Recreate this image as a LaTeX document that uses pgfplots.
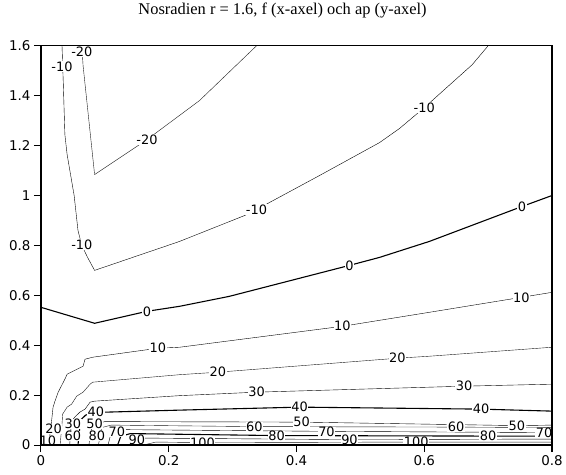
\documentclass[border=0pt]{standalone}
\usepackage{pgfplots}
\pgfplotsset{compat=1.18}
\usepackage{fontspec}
\setmainfont{Liberation Serif}
\newfontfamily\labfont{DejaVu Sans}
\tikzset{cl/.style={fill=white, inner sep=0.5bp, font=\labfont\fontsize{13}{14}\selectfont}}
\begin{document}
\begin{tikzpicture}
\begin{axis}[
    width=512bp, height=400bp, scale only axis,
    xmin=0, xmax=0.8, ymin=0, ymax=1.6,
    xtick={0,0.2,0.4,0.6,0.8},
    ytick={0,0.2,0.4,0.6,0.8,1,1.2,1.4,1.6},
    tick pos=left, tick align=outside,
    major tick length=7bp,
    tick style={black, line width=1.1bp},
    axis line style={line width=1.3bp},
    tick label style={font=\labfont\fontsize{13.5}{15}\selectfont},
    /pgf/number format/assume math mode=true,
    title={Nosradien r = 1.6, f (x-axel) och ap (y-axel)},
    title style={at={(0.4727,1)}, anchor=center, yshift=29bp, font=\fontsize{16.5}{19}\selectfont},
    axis on top,
    cycle list={{black!90, solid, line width=1.1bp, mark=none}},
]
% -20
\addplot coordinates {(0.064,1.6) (0.066,1.52) (0.084,1.084) (0.166,1.224) (0.248,1.38) (0.3375,1.6)};
% -10
\addplot coordinates {(0.033,1.6) (0.035,1.45) (0.0375,1.244) (0.041,1.164) (0.052,1.0) (0.058,0.86)
    (0.064,0.8) (0.073,0.752) (0.084,0.7) (0.217,0.816) (0.319,0.92) (0.3375,0.944) (0.436,1.08)
    (0.53,1.212) (0.561,1.268) (0.6,1.352) (0.675,1.524) (0.70,1.6)};
% 0
\addplot coordinates {(0,0.552) (0.084,0.488) (0.166,0.536) (0.217,0.556) (0.295,0.596) (0.483,0.72)
    (0.53,0.752) (0.608,0.816) (0.753,0.956) (0.8,1.0)};
% 10
\addplot coordinates {(0.012,0) (0.015,0.06) (0.017,0.104) (0.019,0.152) (0.022,0.176) (0.027,0.212)
    (0.0375,0.264) (0.041,0.284) (0.066,0.316) (0.069,0.344) (0.081,0.352) (0.183,0.388) (0.217,0.392)
    (0.472,0.476) (0.608,0.532) (0.752,0.592) (0.8,0.612)};
% 20
\addplot coordinates {(0.03,0) (0.033,0.084) (0.034,0.124) (0.041,0.152) (0.048,0.164) (0.056,0.196)
    (0.066,0.212) (0.077,0.244) (0.081,0.252) (0.217,0.282) (0.277,0.292) (0.558,0.348) (0.608,0.356) (0.8,0.392)};
% 30
\addplot coordinates {(0.045,0) (0.048,0.096) (0.053,0.112) (0.061,0.132) (0.069,0.144) (0.077,0.172)
    (0.084,0.176) (0.217,0.198) (0.3375,0.212) (0.6625,0.236) (0.8,0.244)};
% 40
\addplot coordinates {(0.058,0) (0.062,0.1) (0.07,0.12) (0.086,0.132) (0.103,0.132) (0.217,0.14)
    (0.405,0.152) (0.689,0.144) (0.8,0.136)};
% 50
\addplot coordinates {(0.075,0) (0.08,0.08) (0.1,0.094) (0.408,0.092) (0.6,0.084) (0.745,0.078) (0.8,0.08)};
% 60
\addplot coordinates {(0.09,0) (0.095,0.07) (0.11,0.08) (0.334,0.074) (0.65,0.072) (0.8,0.07)};
% 70
\addplot coordinates {(0.105,0) (0.11,0.05) (0.12,0.062) (0.447,0.055) (0.8,0.05)};
% 80
\addplot coordinates {(0.12,0) (0.125,0.035) (0.14,0.046) (0.369,0.038) (0.7,0.036) (0.8,0.036)};
% 90
\addplot coordinates {(0.14,0) (0.145,0.02) (0.16,0.028) (0.478,0.022) (0.8,0.024)};
% 100
\addplot coordinates {(0.16,0) (0.18,0.012) (0.253,0.01) (0.5875,0.012) (0.8,0.012)};

% contour labels
\node[cl] at (axis cs:0.064,1.576) {-20};
\node[cl] at (axis cs:0.166,1.224) {-20};
\node[cl] at (axis cs:0.033,1.516) {-10};
\node[cl] at (axis cs:0.064,0.804) {-10};
\node[cl] at (axis cs:0.3375,0.944) {-10};
\node[cl] at (axis cs:0.6,1.352) {-10};
\node[cl] at (axis cs:0.166,0.536) {0};
\node[cl] at (axis cs:0.483,0.72) {0};
\node[cl] at (axis cs:0.753,0.956) {0};
\node[cl] at (axis cs:0.183,0.388) {10};
\node[cl] at (axis cs:0.472,0.476) {10};
\node[cl] at (axis cs:0.752,0.592) {10};
\node[cl] at (axis cs:0.011,0.016) {10};
\node[cl] at (axis cs:0.020,0.064) {20};
\node[cl] at (axis cs:0.277,0.292) {20};
\node[cl] at (axis cs:0.558,0.348) {20};
\node[cl] at (axis cs:0.050,0.084) {30};
\node[cl] at (axis cs:0.3375,0.212) {30};
\node[cl] at (axis cs:0.6625,0.236) {30};
\node[cl] at (axis cs:0.086,0.132) {40};
\node[cl] at (axis cs:0.405,0.152) {40};
\node[cl] at (axis cs:0.689,0.144) {40};
\node[cl] at (axis cs:0.084,0.084) {50};
\node[cl] at (axis cs:0.408,0.092) {50};
\node[cl] at (axis cs:0.745,0.076) {50};
\node[cl] at (axis cs:0.050,0.036) {60};
\node[cl] at (axis cs:0.334,0.072) {60};
\node[cl] at (axis cs:0.65,0.072) {60};
\node[cl] at (axis cs:0.119,0.052) {70};
\node[cl] at (axis cs:0.447,0.052) {70};
\node[cl] at (axis cs:0.7875,0.048) {70};
\node[cl] at (axis cs:0.0875,0.036) {80};
\node[cl] at (axis cs:0.369,0.036) {80};
\node[cl] at (axis cs:0.70,0.036) {80};
\node[cl] at (axis cs:0.15,0.02) {90};
\node[cl] at (axis cs:0.483,0.022) {90};
\node[cl] at (axis cs:0.253,0.008) {100};
\node[cl] at (axis cs:0.5875,0.012) {100};

\draw[line width=2bp] (rel axis cs:0,0) -- (rel axis cs:0,1);
\coordinate (sw) at (rel axis cs:0,0);
\coordinate (ne) at (rel axis cs:1,1);
\end{axis}
\path ([shift={(-41bp,-29bp)}]sw) rectangle ([shift={(13bp,41bp)}]ne);
\end{tikzpicture}
\end{document}
